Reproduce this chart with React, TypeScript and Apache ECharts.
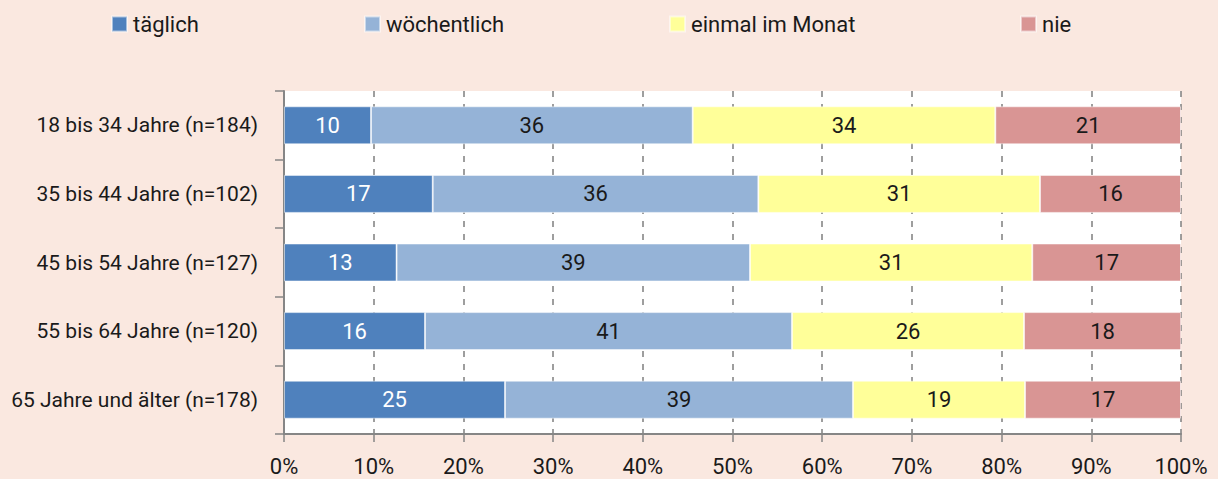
import React, { useEffect, useRef } from "react";
import * as echarts from "echarts";

const categories = [
  "18 bis 34 Jahre (n=184)",
  "35 bis 44 Jahre (n=102)",
  "45 bis 54 Jahre (n=127)",
  "55 bis 64 Jahre (n=120)",
  "65 Jahre und älter (n=178)",
];
const seriesNames = ["täglich", "wöchentlich", "einmal im Monat", "nie"];
const taeglich = [9.7, 16.58, 12.55, 15.72, 24.64];
const woechentlich = [35.86, 36.3, 39.4, 40.91, 38.79];
const einmalImMonat = [33.74, 31.4, 31.47, 25.87, 19.18];
const nie = [20.7, 15.72, 16.58, 17.52, 17.39];
const xTicks = [0, 10, 20, 30, 40, 50, 60, 70, 80, 90, 100];

const colors = ["#4F81BD", "#95B3D7", "#FFFF99", "#D99594"];
const labelColors = ["#ffffff", "#1a1a1a", "#1a1a1a", "#1a1a1a"];
const legendLefts = [111, 364, 669, 1020];
const FONT = "Roboto, 'Liberation Sans', sans-serif";

export default function App() {
  const ref = useRef<HTMLDivElement>(null);
  useEffect(() => {
    if (!ref.current) return;
    const chart = echarts.init(ref.current, null, { renderer: "svg" });
    const data = [taeglich, woechentlich, einmalImMonat, nie];
    chart.setOption({
      animation: false,
      backgroundColor: "#FAE8E0",
      textStyle: { fontFamily: FONT },
      legend: seriesNames.map((n, i) => ({
        data: [n],
        left: legendLefts[i],
        top: 13,
        padding: 0,
        itemWidth: 15,
        itemHeight: 15,
        itemGap: 6,
        icon: "rect",
        selectedMode: false,
        textStyle: { fontFamily: FONT, fontSize: 22, color: "#1a1a1a", padding: [0, 0, 0, 1] },
      })),
      grid: {
        left: 284,
        right: 37,
        top: 91,
        bottom: 45,
        containLabel: false,
        outerBoundsMode: "none",
        backgroundColor: "#ffffff",
        show: true,
        borderWidth: 0,
      },
      xAxis: {
        type: "value",
        min: xTicks[0],
        max: xTicks[xTicks.length - 1],
        interval: 10,
        axisLine: { show: true, lineStyle: { color: "#868686", width: 2 } },
        axisTick: { show: true, length: 8, lineStyle: { color: "#868686", width: 1.5 } },
        axisLabel: { formatter: "{value}%", fontFamily: FONT, fontSize: 22, color: "#1a1a1a", margin: 21 },
        splitLine: { show: true, lineStyle: { color: "#7f7f7f", width: 1.5, type: [6, 7] } },
      },
      yAxis: {
        type: "category",
        data: categories,
        inverse: true,
        axisLine: { show: true, lineStyle: { color: "#868686", width: 2 } },
        axisTick: { show: true, length: 9, lineStyle: { color: "#868686", width: 1.5 } },
        axisLabel: { fontFamily: FONT, fontSize: 21, color: "#1a1a1a", margin: 26 },
        splitLine: { show: false },
      },
      series: seriesNames.map((n, i) => ({
        name: n,
        type: "bar",
        stack: "total",
        barWidth: 38,
        data: data[i],
        itemStyle: { color: colors[i], borderColor: "rgba(255,255,255,0.5)", borderWidth: 1 },
        label: {
          show: true,
          position: "inside",
          formatter: (p: any) => String(Math.round(p.value)),
          fontFamily: FONT,
          fontSize: 22,
          color: labelColors[i],
        },
      })),
    });
    return () => chart.dispose();
  }, []);
  return (
    <div
      ref={ref}
      style={{ position: "fixed", left: 0, top: 0, width: 1218, height: 479 }}
    />
  );
}
